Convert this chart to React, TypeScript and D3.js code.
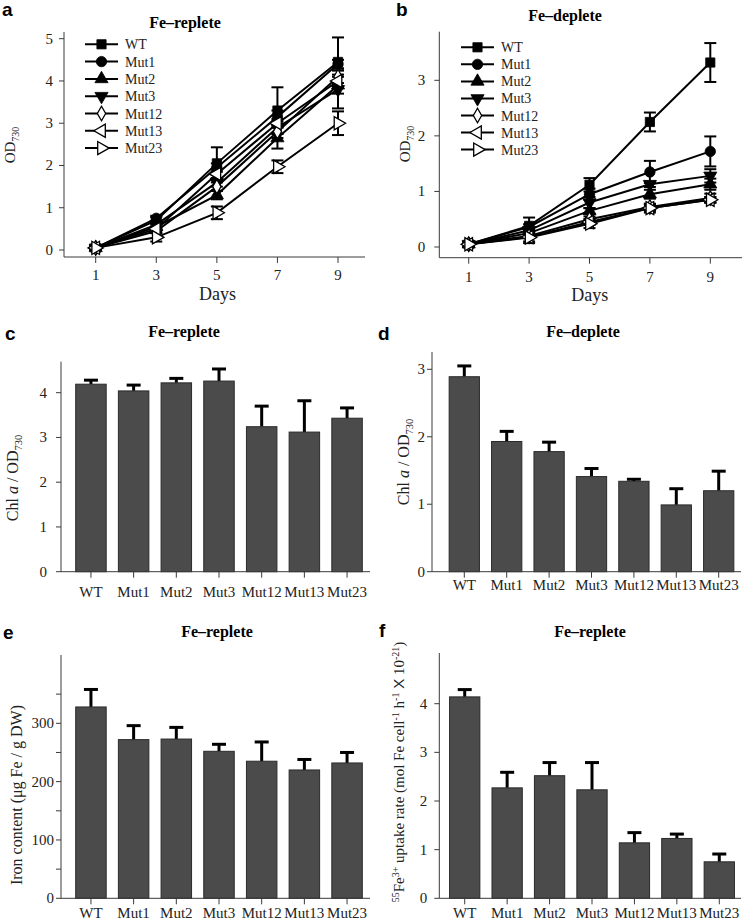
import React from 'react';
import * as d3 from 'd3';

// ---------- data ----------
const DAYS = [1, 3, 5, 7, 9];
const STRAINS = ['WT', 'Mut1', 'Mut2', 'Mut3', 'Mut12', 'Mut13', 'Mut23'];

// Panel a: OD730, Fe-replete
const repleteWT = [0.05, 0.7, 2.05, 3.3, 4.45];
const repleteMut1 = [0.05, 0.75, 1.95, 3.15, 4.4];
const repleteMut2 = [0.05, 0.55, 1.3, 2.65, 3.9];
const repleteMut3 = [0.05, 0.6, 1.6, 2.9, 3.8];
const repleteMut12 = [0.05, 0.45, 1.5, 2.8, 4.1];
const repleteMut13 = [0.05, 0.5, 1.8, 3.0, 4.0];
const repleteMut23 = [0.05, 0.3, 0.88, 1.97, 3.0];
const repleteErrWT = [0.05, 0.08, 0.38, 0.55, 0.58];
const repleteErrMut1 = [0.05, 0.06, 0.1, 0.15, 0.1];
const repleteErrMut2 = [0.05, 0.05, 0.1, 0.25, 0.2];
const repleteErrMut3 = [0.05, 0.05, 0.1, 0.15, 0.45];
const repleteErrMut12 = [0.05, 0.05, 0.1, 0.15, 0.15];
const repleteErrMut13 = [0.05, 0.05, 0.1, 0.1, 0.15];
const repleteErrMut23 = [0.05, 0.1, 0.15, 0.15, 0.28];

// Panel b: OD730, Fe-deplete
const depleteWT = [0.05, 0.38, 1.12, 2.25, 3.32];
const depleteMut1 = [0.05, 0.36, 0.95, 1.35, 1.72];
const depleteMut2 = [0.05, 0.25, 0.65, 0.95, 1.13];
const depleteMut3 = [0.05, 0.3, 0.8, 1.13, 1.28];
const depleteMut12 = [0.05, 0.2, 0.5, 0.72, 0.88];
const depleteMut13 = [0.05, 0.18, 0.45, 0.7, 0.85];
const depleteMut23 = [0.05, 0.17, 0.42, 0.7, 0.85];
const depleteErrWT = [0.05, 0.15, 0.12, 0.17, 0.35];
const depleteErrMut1 = [0.04, 0.05, 0.1, 0.2, 0.27];
const depleteErrMut2 = [0.04, 0.04, 0.05, 0.08, 0.1];
const depleteErrMut3 = [0.04, 0.04, 0.1, 0.05, 0.12];
const depleteErrMut12 = [0.04, 0.04, 0.05, 0.05, 0.08];
const depleteErrMut13 = [0.04, 0.08, 0.05, 0.05, 0.05];
const depleteErrMut23 = [0.04, 0.1, 0.08, 0.08, 0.05];

// Panel c: Chl a / OD730, Fe-replete
const chlReplete = [4.19, 4.04, 4.22, 4.26, 3.24, 3.12, 3.43];
const chlRepleteErr = [0.09, 0.13, 0.1, 0.27, 0.46, 0.7, 0.23];
// Panel d: Chl a / OD730, Fe-deplete
const chlDeplete = [2.89, 1.93, 1.78, 1.41, 1.34, 0.99, 1.2];
const chlDepleteErr = [0.16, 0.15, 0.14, 0.12, 0.03, 0.24, 0.29];
// Panel e: iron content
const ironContent = [328, 272, 273, 252, 235, 220, 232];
const ironContentErr = [30, 24, 20, 12, 33, 18, 18];
// Panel f: 55Fe uptake rate
const uptakeRate = [4.14, 2.27, 2.52, 2.23, 1.14, 1.23, 0.75];
const uptakeRateErr = [0.15, 0.32, 0.27, 0.56, 0.21, 0.09, 0.16];

const OD_TICKS_A = [0, 1, 2, 3, 4, 5];
const OD_TICKS_B = [0, 1, 2, 3];
const CHL_TICKS_C = [0, 1, 2, 3, 4];
const CHL_TICKS_D = [0, 1, 2, 3];
const IRON_TICKS = [0, 50, 100, 150, 200, 250, 300, 350];
const IRON_LABELS = [0, 100, 200, 300];
const UPTAKE_TICKS = [0, 1, 2, 3, 4];

const repleteSeries = [repleteWT, repleteMut1, repleteMut2, repleteMut3, repleteMut12, repleteMut13, repleteMut23];
const repleteErrs = [repleteErrWT, repleteErrMut1, repleteErrMut2, repleteErrMut3, repleteErrMut12, repleteErrMut13, repleteErrMut23];
const depleteSeries = [depleteWT, depleteMut1, depleteMut2, depleteMut3, depleteMut12, depleteMut13, depleteMut23];
const depleteErrs = [depleteErrWT, depleteErrMut1, depleteErrMut2, depleteErrMut3, depleteErrMut12, depleteErrMut13, depleteErrMut23];

// ---------- styling ----------
const SERIF = "'Liberation Serif', 'Times New Roman', serif";
const SANS = "'Liberation Sans', Arial, sans-serif";
const AXIS = '#3a3a3a';
const BAR_FILL = '#4b4b4b';

type MarkerDef = { type: d3.SymbolType; size: number; rot: number; open: boolean };
const MARKERS: MarkerDef[] = [
  { type: d3.symbolSquare, size: 85, rot: 0, open: false },
  { type: d3.symbolCircle, size: 85, rot: 0, open: false },
  { type: d3.symbolTriangle, size: 75, rot: 0, open: false },
  { type: d3.symbolTriangle, size: 75, rot: 180, open: false },
  { type: d3.symbolDiamond, size: 60, rot: 0, open: true },
  { type: d3.symbolTriangle, size: 75, rot: -90, open: true },
  { type: d3.symbolTriangle, size: 75, rot: 90, open: true },
];

function Marker({ m, x, y }: { m: MarkerDef; x: number; y: number }) {
  const p = d3.symbol().type(m.type).size(m.size)() as string;
  return (
    <path
      d={p}
      transform={`translate(${x},${y}) rotate(${m.rot})`}
      fill={m.open ? '#fff' : '#000'}
      stroke="#000"
      strokeWidth={m.open ? 1.3 : 0.8}
    />
  );
}

type LineCfg = {
  axisX: number; axisY: number; yTop: number; xRight: number;
  x1: number; x9: number; y0: number; yMaxVal: number; yMaxPx: number;
  ticks: number[]; gap: number; tickBase: number;
  daysX: number; daysY: number;
  title: string; titleX: number; titleY: number;
  letter: string; letterX: number; letterY: number;
  yLabX: number; yLabY: number;
  legX: number; legY0: number; legStep: number;
};

function LinePanel({ c, series, errs }: { c: LineCfg; series: number[][]; errs: number[][] }) {
  const x = d3.scaleLinear().domain([1, 9]).range([c.x1, c.x9]);
  const y = d3.scaleLinear().domain([0, c.yMaxVal]).range([c.y0, c.yMaxPx]);
  const line = d3.line<number>().x((_, i) => x(DAYS[i])).y((v) => y(v));
  return (
    <g>
      <text x={c.letterX} y={c.letterY} fontFamily={SANS} fontWeight="bold" fontSize={19}>{c.letter}</text>
      <text x={c.titleX} y={c.titleY} fontFamily={SERIF} fontWeight="bold" fontSize={16} textAnchor="middle">{c.title}</text>
      {/* axes */}
      <line x1={c.axisX} y1={c.yTop} x2={c.axisX} y2={c.axisY} stroke={AXIS} strokeWidth={1} />
      <line x1={c.axisX} y1={c.axisY} x2={c.xRight} y2={c.axisY} stroke={AXIS} strokeWidth={1} />
      {c.ticks.map((t) => (
        <g key={t}>
          <line x1={c.axisX - 5} x2={c.axisX} y1={y(t)} y2={y(t)} stroke={AXIS} />
          <text x={c.axisX - c.gap} y={y(t) + 5} textAnchor="end" fontFamily={SERIF} fontSize={15} fill="#222">{t}</text>
        </g>
      ))}
      {DAYS.map((d) => (
        <g key={d}>
          <line x1={x(d)} x2={x(d)} y1={c.axisY} y2={c.axisY + 6} stroke={AXIS} />
          <text x={x(d)} y={c.tickBase} textAnchor="middle" fontFamily={SERIF} fontSize={15} fill="#222">{d}</text>
        </g>
      ))}
      <text x={c.daysX} y={c.daysY} textAnchor="middle" fontFamily={SERIF} fontSize={18} fill="#222">Days</text>
      <text transform={`translate(${c.yLabX},${c.yLabY}) rotate(-90)`} textAnchor="middle" fontFamily={SERIF} fontSize={15} fill="#222">
        OD<tspan fontSize={10} dy={4}>730</tspan>
      </text>
      {/* data lines */}
      {series.map((s, i) => (
        <path key={'l' + i} d={line(s) as string} fill="none" stroke="#000" strokeWidth={2} />
      ))}
      {series.map((s, i) =>
        s.map((v, j) => {
          const e = errs[i][j];
          const cx = x(DAYS[j]);
          return (
            <g key={'e' + i + '-' + j} stroke="#000" strokeWidth={2}>
              <line x1={cx} x2={cx} y1={y(v + e)} y2={y(v - e)} />
              <line x1={cx - 6} x2={cx + 6} y1={y(v + e)} y2={y(v + e)} />
              <line x1={cx - 6} x2={cx + 6} y1={y(v - e)} y2={y(v - e)} />
            </g>
          );
        })
      )}
      {series.map((s, i) =>
        s.map((v, j) => <Marker key={'m' + i + '-' + j} m={MARKERS[i]} x={x(DAYS[j])} y={y(v)} />)
      )}
      {/* legend */}
      {STRAINS.map((name, i) => {
        const ly = c.legY0 + i * c.legStep;
        return (
          <g key={'lg' + name}>
            <line x1={c.legX} x2={c.legX + 33} y1={ly} y2={ly} stroke="#000" strokeWidth={2} />
            <Marker m={MARKERS[i]} x={c.legX + 16.5} y={ly} />
            <text x={c.legX + 40} y={ly + 5} fontFamily={SERIF} fontSize={14} fill="#222">{name}</text>
          </g>
        );
      })}
    </g>
  );
}

type BarCfg = {
  axisX: number; axisY: number; yTop: number; xRight: number;
  band: [number, number]; yMaxVal: number; yMaxPx: number;
  ticks: number[]; labels: number[]; gap: number; tickBase: number;
  title: string; titleX: number; titleY: number;
  letter: string; letterX: number; letterY: number;
  yLabX: number; yLabY: number;
  yLabel: React.ReactNode; yLabSize: number;
};

function BarPanel({ c, values, errs }: { c: BarCfg; values: number[]; errs: number[] }) {
  const x = d3.scaleBand<string>().domain(STRAINS).range(c.band).paddingInner(0.286).paddingOuter(0.143);
  const y = d3.scaleLinear().domain([0, c.yMaxVal]).range([c.axisY, c.yMaxPx]);
  const bw = x.bandwidth();
  return (
    <g>
      <text x={c.letterX} y={c.letterY} fontFamily={SANS} fontWeight="bold" fontSize={19}>{c.letter}</text>
      <text x={c.titleX} y={c.titleY} fontFamily={SERIF} fontWeight="bold" fontSize={16} textAnchor="middle">{c.title}</text>
      {/* error bars (upper) */}
      {values.map((v, i) => {
        const cx = (x(STRAINS[i]) as number) + bw / 2;
        return (
          <g key={'e' + i} stroke="#000" strokeWidth={3}>
            <line x1={cx} x2={cx} y1={y(v)} y2={y(v + errs[i])} />
            <line x1={cx - 7} x2={cx + 7} y1={y(v + errs[i])} y2={y(v + errs[i])} />
          </g>
        );
      })}
      {values.map((v, i) => (
        <rect key={'b' + i} x={x(STRAINS[i]) as number} y={y(v)} width={bw} height={c.axisY - y(v)}
          fill={BAR_FILL} stroke="#2a2a2a" strokeWidth={1} />
      ))}
      <line x1={c.axisX} y1={c.yTop} x2={c.axisX} y2={c.axisY} stroke={AXIS} strokeWidth={1} />
      <line x1={c.axisX} y1={c.axisY} x2={c.xRight} y2={c.axisY} stroke={AXIS} strokeWidth={1} />
      {c.ticks.map((t) => (
        <g key={t}>
          <line x1={c.axisX - 5} x2={c.axisX} y1={y(t)} y2={y(t)} stroke={AXIS} />
          {c.labels.includes(t) && (
            <text x={c.axisX - c.gap} y={y(t) + 5} textAnchor="end" fontFamily={SERIF} fontSize={15} fill="#222">{t}</text>
          )}
        </g>
      ))}
      {STRAINS.map((s) => {
        const cx = (x(s) as number) + bw / 2;
        return (
          <g key={s}>
            <line x1={cx} x2={cx} y1={c.axisY} y2={c.axisY + 6} stroke={AXIS} />
            <text x={cx} y={c.tickBase} textAnchor="middle" fontFamily={SERIF} fontSize={15} fill="#222">{s}</text>
          </g>
        );
      })}
      <text transform={`translate(${c.yLabX},${c.yLabY}) rotate(-90)`} textAnchor="middle" fontFamily={SERIF} fontSize={c.yLabSize} fill="#222">
        {c.yLabel}
      </text>
    </g>
  );
}

const cfgA: LineCfg = {
  axisX: 64, axisY: 257, yTop: 32, xRight: 365, x1: 95.7, x9: 338, y0: 250, yMaxVal: 5, yMaxPx: 38.7,
  ticks: OD_TICKS_A, gap: 11, tickBase: 280, daysX: 217.5, daysY: 300,
  title: 'Fe–replete', titleX: 185, titleY: 27.5, letter: 'a', letterX: 2, letterY: 16,
  yLabX: 15, yLabY: 145, legX: 85, legY0: 44.3, legStep: 17.3,
};
const cfgB: LineCfg = {
  axisX: 439.3, axisY: 257.7, yTop: 31.7, xRight: 742, x1: 468.7, x9: 710.3, y0: 247, yMaxVal: 3, yMaxPx: 80.3,
  ticks: OD_TICKS_B, gap: 14, tickBase: 281.5, daysX: 589.7, daysY: 301,
  title: 'Fe–deplete', titleX: 565, titleY: 20.5, letter: 'b', letterX: 396, letterY: 16,
  yLabX: 410, yLabY: 144, legX: 461, legY0: 47.3, legStep: 17.05,
};

const chlLabel = (
  <>
    Chl <tspan fontStyle="italic">a</tspan> / OD<tspan fontSize={10.5} dy={4}>730</tspan>
  </>
);
const ironLabel = <>Iron content (μg Fe / g DW)</>;
const uptakeLabel = (
  <>
    <tspan fontSize={10} dy={-5}>55</tspan>
    <tspan dy={5}>Fe</tspan>
    <tspan fontSize={10} dy={-5}>3+</tspan>
    <tspan dy={5}> uptake rate (mol Fe cell</tspan>
    <tspan fontSize={10} dy={-5}>-1</tspan>
    <tspan dy={5}> h</tspan>
    <tspan fontSize={10} dy={-5}>-1</tspan>
    <tspan dy={5}> </tspan>
    <tspan fontFamily={SANS}>X</tspan>
    <tspan> 10</tspan>
    <tspan fontSize={10} dy={-5}>-21</tspan>
    <tspan dy={5}>)</tspan>
  </>
);

const cfgC: BarCfg = {
  axisX: 61, axisY: 571.7, yTop: 361.7, xRight: 370, band: [69.6, 368.4], yMaxVal: 4, yMaxPx: 392.7,
  ticks: CHL_TICKS_C, labels: CHL_TICKS_C, gap: 14, tickBase: 596.7,
  title: 'Fe–replete', titleX: 184, titleY: 337, letter: 'c', letterX: 5, letterY: 340,
  yLabX: 18, yLabY: 478, yLabel: chlLabel, yLabSize: 16,
};
const cfgD: BarCfg = {
  axisX: 432, axisY: 571.7, yTop: 352, xRight: 741, band: [443.1, 739.9], yMaxVal: 3, yMaxPx: 369.3,
  ticks: CHL_TICKS_D, labels: CHL_TICKS_D, gap: 7, tickBase: 590,
  title: 'Fe–deplete', titleX: 583, titleY: 337, letter: 'd', letterX: 378, letterY: 340,
  yLabX: 409, yLabY: 462, yLabel: chlLabel, yLabSize: 16,
};
const cfgE: BarCfg = {
  axisX: 61, axisY: 898.3, yTop: 655, xRight: 370, band: [69.6, 368.4], yMaxVal: 300, yMaxPx: 723.3,
  ticks: IRON_TICKS, labels: IRON_LABELS, gap: 7, tickBase: 918,
  title: 'Fe–replete', titleX: 217, titleY: 636.7, letter: 'e', letterX: 3, letterY: 639,
  yLabX: 22, yLabY: 795, yLabel: ironLabel, yLabSize: 16,
};
const cfgF: BarCfg = {
  axisX: 439.3, axisY: 898.3, yTop: 653, xRight: 741, band: [443.5, 740.5], yMaxVal: 4, yMaxPx: 703.7,
  ticks: UPTAKE_TICKS, labels: UPTAKE_TICKS, gap: 12, tickBase: 918,
  title: 'Fe–replete', titleX: 590, titleY: 636.7, letter: 'f', letterX: 379, letterY: 637,
  yLabX: 404, yLabY: 772, yLabel: uptakeLabel, yLabSize: 15,
};

export default function App() {
  return (
    <svg width={742} height={921} style={{ position: 'absolute', left: 0, top: 0, background: '#fff' }}>
      <rect width={742} height={921} fill="#fff" />
      <LinePanel c={cfgA} series={repleteSeries} errs={repleteErrs} />
      <LinePanel c={cfgB} series={depleteSeries} errs={depleteErrs} />
      <BarPanel c={cfgC} values={chlReplete} errs={chlRepleteErr} />
      <BarPanel c={cfgD} values={chlDeplete} errs={chlDepleteErr} />
      <BarPanel c={cfgE} values={ironContent} errs={ironContentErr} />
      <BarPanel c={cfgF} values={uptakeRate} errs={uptakeRateErr} />
    </svg>
  );
}
